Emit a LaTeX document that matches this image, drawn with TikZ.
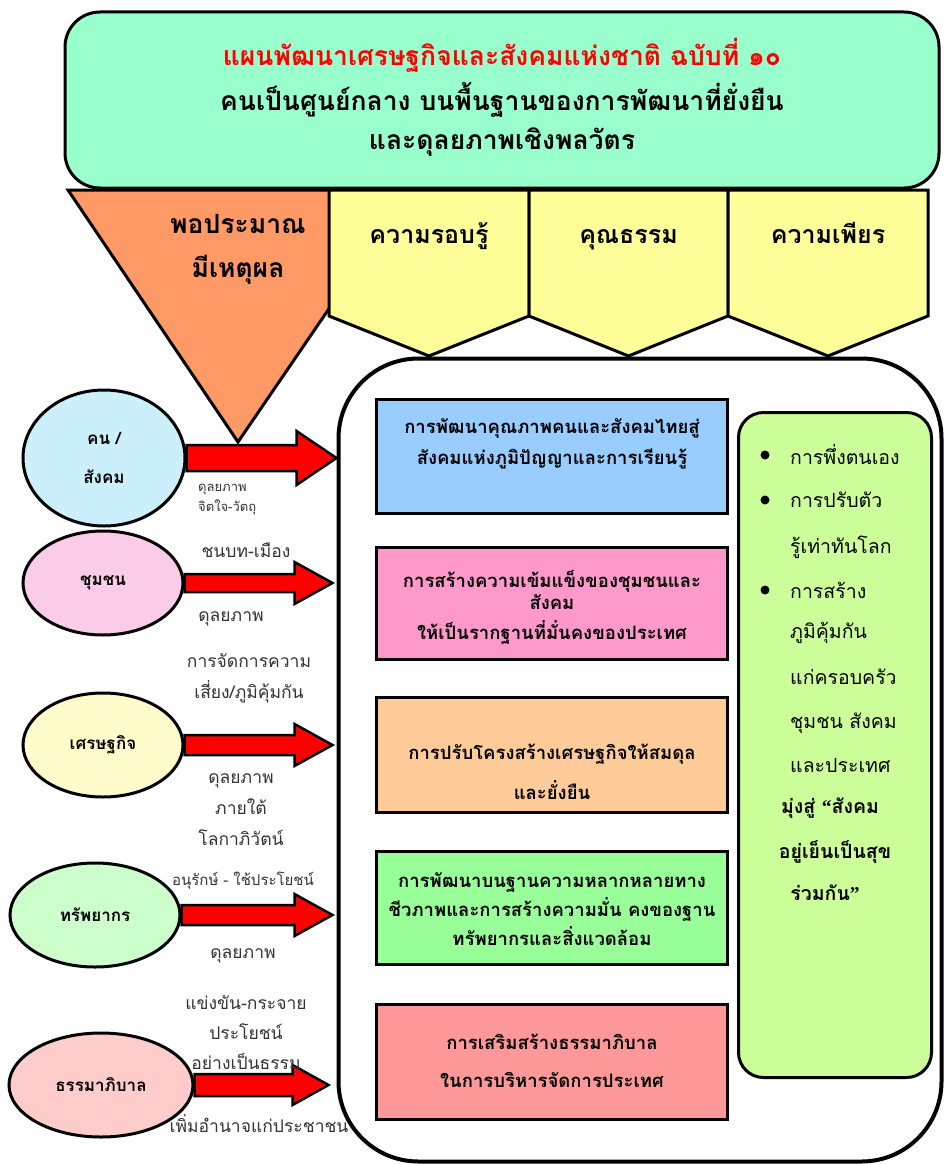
\documentclass[tikz,border=0pt]{standalone}
\usepackage{fontspec}
\setmainfont{Loma}[Script=Thai]
\newfontfamily\quotefont{Liberation Serif}
\usetikzlibrary{shapes,calc}
\definecolor{mintbox}{HTML}{99FFCC}
\definecolor{peach}{HTML}{FF9966}
\definecolor{paleyellow}{HTML}{FFFF99}
\definecolor{skyblue}{HTML}{99CCFF}
\definecolor{rosepink}{HTML}{FF99CC}
\definecolor{apricot}{HTML}{FFCC99}
\definecolor{lightgreen}{HTML}{99FF99}
\definecolor{salmon}{HTML}{FF9999}
\definecolor{lime}{HTML}{CCFF99}
\newcommand{\tsize}[2]{\fontsize{#1}{#2}\selectfont}
% block arrow: start, tip, shaft half, head half, head length
\newcommand{\bigarrow}[5]{%
  \draw[redarrow] ($(#1)+(0,-#3)$) -- ($(#2)+(-#5,-#3)$) -- ($(#2)+(-#5,-#4)$) -- (#2)
    -- ($(#2)+(-#5,#4)$) -- ($(#2)+(-#5,#3)$) -- ($(#1)+(0,#3)$) -- cycle;}

\begin{document}
\begin{tikzpicture}[x=1pt,y=-1pt,
  outline/.style={draw=black,line width=3pt},
  headtext/.style={font=\bfseries\tsize{26.5}{30}},
  pillartext/.style={anchor=base,font=\bfseries\tsize{25}{28}},
  areaell/.style={outline,ellipse,inner sep=0pt,align=center,font=\bfseries\tsize{17}{39}},
  aimbox/.style={outline,rectangle,minimum width=351,inner sep=0pt},
  aimtext/.style={align=center,font=\bfseries\tsize{18.5}{31}},
  balance/.style={align=center,text=black!80,font=\tsize{17.5}{31}},
  redarrow/.style={draw=black,line width=2.5pt,fill=red},
  dot/.style={circle,fill=black,inner sep=0pt,minimum size=9pt},
  waytext/.style={anchor=west,inner sep=0pt,font=\tsize{19.5}{20}},
  goaltext/.style={font=\bfseries\tsize{19.5}{20}}]
\useasboundingbox (0,0) rectangle (944,1164);

% top heading
\node[outline,rounded corners=35pt,fill=mintbox,minimum width=874,minimum height=176] (plan) at (502,100) {};
\node[headtext,text=red] (plan1) at (502,55) {แผนพัฒนาเศรษฐกิจและสังคมแห่งชาติ ฉบับที่ ๑๐};
\node[headtext] (plan2) at (502,100) {คนเป็นศูนย์กลาง บนพื้นฐานของการพัฒนาที่ยั่งยืน};
\node[headtext] (plan3) at (502,142) {และดุลยภาพเชิงพลวัตร};

% big frame
\node[draw=black,line width=4pt,rounded corners=80pt,minimum width=603,minimum height=803] (frame) at (640,760) {};

% moderation triangle
\draw[outline,fill=peach] (68,190) -- (410,190) -- (238,442) -- cycle;
\node[headtext] (moderate) at (238,224) {พอประมาณ};
\node[headtext] (reason) at (238,270) {มีเหตุผล};

% pillars
\foreach \l/\r/\name/\txt in {329/529/wisdom/ความรอบรู้,529/728/virtue/คุณธรรม,728/928/effort/ความเพียร}{
  \draw[outline,fill=paleyellow] (\l,190) -- (\r,190) -- (\r,316) -- ({(\l+\r)/2},356) -- (\l,316) -- cycle;
  \node[pillartext] (\name) at ({(\l+\r)/2},243) {\txt};
}

% areas
\node[areaell,fill=cyan!20,minimum width=162,minimum height=136] (people) at (104,458) {คน /\\สังคม};
\node[areaell,fill=magenta!20,minimum width=160,minimum height=104] (community) at (103,583) {ชุมชน};
\node[areaell,fill=yellow!20,minimum width=160,minimum height=104] (economy) at (103,745) {เศรษฐกิจ};
\node[areaell,fill=green!20,minimum width=170,minimum height=104] (resource) at (95,915) {ทรัพยากร};
\node[areaell,fill=red!20,minimum width=184,minimum height=104] (governance) at (101,1085) {ธรรมาภิบาล};

% arrows into the frame
\path (people.east -| frame.west) coordinate (tip1);
\path (community.east -| frame.west) ++(-4,0) coordinate (tip2);
\path (economy.east -| frame.west) ++(-4,0) coordinate (tip3);
\path (resource.east -| frame.west) ++(-4,0) coordinate (tip4);
\path (governance.east -| frame.west) ++(-8,0) coordinate (tip5);
\bigarrow{people.east}{tip1}{13}{27}{40}
\bigarrow{community.east}{tip2}{9}{21}{38}
\bigarrow{economy.east}{tip3}{10}{21}{38}
\bigarrow{resource.east}{tip4}{10}{21}{38}
\bigarrow{governance.east}{tip5}{11}{20}{36}

% arrow labels
\node[balance,font=\tsize{13}{20},align=left,anchor=west,inner sep=0pt] (mind) at (198,500) {ดุลยภาพ\\จิตใจ-วัตถุ};
\node[balance] (rural) at (246,550) {ชนบท-เมือง};
\node[balance] (commbal) at (231,619) {ดุลยภาพ};
\node[balance] (risk) at (249,678) {การจัดการความ\\เสี่ยง/ภูมิคุ้มกัน};
\node[balance] (global) at (241,810) {ดุลยภาพ\\ภายใต้\\โลกาภิวัตน์};
\node[balance,font=\tsize{15}{20}] (conserve) at (243,881) {อนุรักษ์ - ใช้ประโยชน์};
\node[balance] (resbal) at (243,956) {ดุลยภาพ};
\node[balance,font=\tsize{17.5}{30}] (share) at (246,1033) {แข่งขัน-กระจาย\\ประโยชน์\\อย่างเป็นธรรม};
\node[balance] (empower) at (259,1124) {เพิ่มอำนาจแก่ประชาชน};

% strategy boxes
\node[aimbox,fill=skyblue,minimum height=114] (aim1) at (552,456) {};
\node[aimtext] (aim1txt) at (552,444) {การพัฒนาคุณภาพคนและสังคมไทยสู่\\สังคมแห่งภูมิปัญญาและการเรียนรู้};
\node[aimbox,fill=rosepink,minimum height=112] (aim2) at (552,603) {};
\node[aimtext,font=\bfseries\tsize{18.5}{22}] (aim2txt) at (552,607) {การสร้างความเข้มแข็งของชุมชนและ\\สังคม\\[8pt]ให้เป็นรากฐานที่มั่นคงของประเทศ};
\node[aimbox,fill=apricot,minimum height=115] (aim3) at (552,755) {};
\node[aimtext,font=\bfseries\tsize{18.5}{40}] (aim3txt) at (552,772) {การปรับโครงสร้างเศรษฐกิจให้สมดุล\\และยั่งยืน};
\node[aimbox,fill=lightgreen,minimum height=113] (aim4) at (552,908) {};
\node[aimtext,font=\bfseries\tsize{18.5}{29}] (aim4txt) at (552,909) {การพัฒนาบนฐานความหลากหลายทาง\\ชีวภาพและการสร้างความมั่น คงของฐาน\\ทรัพยากรและสิ่งแวดล้อม};
\node[aimbox,fill=salmon,minimum height=115] (aim5) at (552,1062) {};
\node[aimtext,font=\bfseries\tsize{18.5}{38}] (aim5txt) at (552,1061) {การเสริมสร้างธรรมาภิบาล\\ในการบริหารจัดการประเทศ};

% sufficiency ways
\node[outline,rounded corners=25pt,fill=lime,minimum width=193,minimum height=665] (ways) at (835,745) {};
\foreach \y/\txt [count=\i] in {455/การพึ่งตนเอง,500/การปรับตัว,547/รู้เท่าทันโลก,590/การสร้าง,633/ภูมิคุ้มกัน,677/แก่ครอบครัว,723/ชุมชน สังคม,765/และประเทศ}
  \node[waytext] (way\i) at (790,\y) {\txt};
\node[dot] (dot1) at (765,455) {};
\node[dot] (dot2) at (765,500) {};
\node[dot] (dot3) at (765,590) {};
\node[goaltext] (goal1) at (830,808) {มุ่งสู่ {\quotefont “}สังคม};
\node[goaltext] (goal2) at (835,852) {อยู่เย็นเป็นสุข};
\node[goaltext] (goal3) at (825,893) {ร่วมกัน{\quotefont ”}};
\end{tikzpicture}
\end{document}
